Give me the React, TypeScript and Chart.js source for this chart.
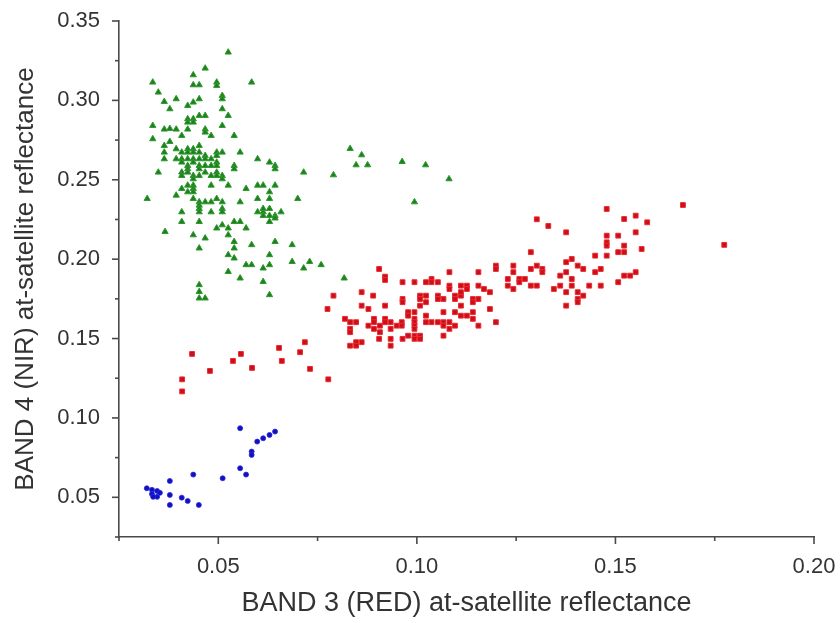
import React, { useEffect, useRef } from "react";
import { Chart, registerables } from "chart.js";

Chart.register(...registerables);

const X_MIN = 0.025;
const X_MAX = 0.2;
const Y_MIN = 0.025;
const Y_MAX = 0.35;
const TICK_STEP = 0.025;

const X_TITLE = "BAND 3 (RED) at-satellite reflectance";
const Y_TITLE = "BAND 4 (NIR) at-satellite reflectance";

const bluePoints: [number, number][] = [
  [0.032, 0.0557], [0.0333, 0.0547], [0.0346, 0.054], [0.0333, 0.0521], [0.0346, 0.0503],
  [0.0336, 0.0503], [0.0353, 0.0528], [0.0378, 0.0603], [0.0378, 0.0515], [0.0378, 0.0452],
  [0.0408, 0.0498], [0.0423, 0.0477], [0.0451, 0.0452], [0.0437, 0.0643], [0.0511, 0.062],
  [0.0555, 0.0935], [0.0555, 0.0683], [0.057, 0.0643], [0.0584, 0.0788], [0.0584, 0.0767],
  [0.0598, 0.0851], [0.0613, 0.0872], [0.0629, 0.0893], [0.0643, 0.0914],
];

const redPoints: [number, number][] = [
  [0.0409, 0.1243], [0.0409, 0.1167], [0.0434, 0.1403], [0.0479, 0.1296], [0.0537, 0.1359],
  [0.0557, 0.1403], [0.0585, 0.1315], [0.0653, 0.1441], [0.066, 0.1359], [0.0706, 0.1414],
  [0.0718, 0.1477], [0.0731, 0.1309], [0.0777, 0.1243], [0.0775, 0.1686], [0.079, 0.177],
  [0.0819, 0.1624], [0.0832, 0.1603], [0.0847, 0.1603], [0.0832, 0.1561], [0.0832, 0.154],
  [0.0832, 0.1455], [0.0847, 0.1477], [0.0847, 0.1455], [0.0861, 0.1477], [0.0861, 0.1792],
  [0.0861, 0.1707], [0.0878, 0.1686], [0.0878, 0.1581], [0.089, 0.177], [0.0892, 0.1624],
  [0.0892, 0.1603], [0.0892, 0.1561], [0.0905, 0.1938], [0.0905, 0.1498], [0.0907, 0.1581],
  [0.0907, 0.154], [0.092, 0.189], [0.092, 0.1869], [0.092, 0.1707], [0.092, 0.1624],
  [0.092, 0.1603], [0.0934, 0.1603], [0.0934, 0.1561], [0.0934, 0.1498], [0.0934, 0.1455],
  [0.0949, 0.1581], [0.0962, 0.1603], [0.0962, 0.1581], [0.0964, 0.1855], [0.0964, 0.1749],
  [0.0964, 0.1729], [0.0964, 0.1498], [0.0978, 0.1666], [0.0978, 0.1644], [0.0978, 0.1518],
  [0.0994, 0.1855], [0.0994, 0.1666], [0.0994, 0.1624], [0.0994, 0.1603], [0.0994, 0.1581],
  [0.0994, 0.1561], [0.0994, 0.1518], [0.0994, 0.1498], [0.1008, 0.1518], [0.1008, 0.1498],
  [0.1008, 0.177], [0.1008, 0.1749], [0.1008, 0.1707], [0.1023, 0.177], [0.1023, 0.1729],
  [0.1023, 0.1644], [0.1023, 0.1603], [0.1023, 0.1855], [0.1037, 0.1875], [0.1037, 0.1855],
  [0.1037, 0.1603], [0.1053, 0.1855], [0.1053, 0.1603], [0.1053, 0.177], [0.1053, 0.1749],
  [0.1067, 0.1749], [0.1067, 0.1666], [0.1067, 0.1603], [0.1067, 0.1581], [0.1067, 0.1518],
  [0.1082, 0.1603], [0.1082, 0.1561], [0.1096, 0.1581], [0.1082, 0.1918], [0.1082, 0.1833],
  [0.1082, 0.1812], [0.1096, 0.177], [0.1096, 0.1749], [0.1111, 0.177], [0.1111, 0.1792],
  [0.1111, 0.1707], [0.1096, 0.1666], [0.1111, 0.1644], [0.1126, 0.1644], [0.1141, 0.1666],
  [0.1141, 0.1624], [0.1111, 0.1833], [0.1126, 0.1833], [0.1126, 0.1812], [0.1141, 0.1749],
  [0.1141, 0.1729], [0.1155, 0.1749], [0.1155, 0.1918], [0.1155, 0.1833], [0.1169, 0.1812],
  [0.1184, 0.1792], [0.1155, 0.1581], [0.1184, 0.1686], [0.1199, 0.1603], [0.1199, 0.1959],
  [0.1199, 0.1938], [0.1229, 0.1875], [0.1229, 0.1833], [0.1243, 0.1959], [0.1243, 0.1918],
  [0.1243, 0.1812], [0.1258, 0.1875], [0.1258, 0.1855], [0.1272, 0.1875], [0.1287, 0.2044],
  [0.1287, 0.1938], [0.1287, 0.1833], [0.1302, 0.1833], [0.1302, 0.1959], [0.1316, 0.1938],
  [0.1316, 0.1918], [0.1302, 0.2251], [0.1331, 0.2209], [0.1376, 0.2169], [0.1345, 0.1812],
  [0.1361, 0.1833], [0.1361, 0.1896], [0.1376, 0.1981], [0.1376, 0.1918], [0.1376, 0.1792],
  [0.1376, 0.1707], [0.139, 0.2001], [0.139, 0.1875], [0.139, 0.1833], [0.1405, 0.1959],
  [0.1405, 0.1792], [0.1405, 0.1749], [0.1405, 0.1729], [0.1419, 0.1938], [0.1419, 0.177],
  [0.1434, 0.1833], [0.1449, 0.2022], [0.1449, 0.1918], [0.1463, 0.1938], [0.1463, 0.1833],
  [0.1478, 0.2316], [0.1478, 0.2148], [0.1478, 0.2106], [0.1478, 0.2085], [0.1478, 0.2022],
  [0.1507, 0.2148], [0.1507, 0.2044], [0.1507, 0.1855], [0.1522, 0.2253], [0.1522, 0.2085],
  [0.1522, 0.2044], [0.1522, 0.1896], [0.1537, 0.1896], [0.1551, 0.2274], [0.1551, 0.2169],
  [0.1551, 0.1918], [0.1566, 0.2064], [0.158, 0.2232], [0.167, 0.2341], [0.1774, 0.209],
];

const greenPoints: [number, number][] = [
  [0.0525, 0.3303], [0.0467, 0.3202], [0.0437, 0.316], [0.0335, 0.3114], [0.0437, 0.3097],
  [0.0452, 0.3097], [0.0496, 0.3114], [0.0496, 0.3093], [0.0584, 0.3114], [0.0349, 0.3051],
  [0.0364, 0.2992], [0.0394, 0.3009], [0.0378, 0.2946], [0.0423, 0.2967], [0.0437, 0.2988],
  [0.0452, 0.3009], [0.051, 0.303], [0.051, 0.3009], [0.051, 0.2946], [0.0525, 0.2904],
  [0.0452, 0.2904], [0.0467, 0.2904], [0.0423, 0.2883], [0.0423, 0.2862], [0.0437, 0.2883],
  [0.0437, 0.2862], [0.0335, 0.2841], [0.0364, 0.2818], [0.0378, 0.2822], [0.0394, 0.2818],
  [0.0408, 0.2778], [0.0423, 0.2818], [0.0467, 0.2818], [0.0467, 0.2799], [0.0482, 0.2778],
  [0.051, 0.2841], [0.054, 0.2778], [0.0335, 0.2757], [0.0378, 0.274], [0.0364, 0.2715],
  [0.0364, 0.2673], [0.0364, 0.2631], [0.0394, 0.2694], [0.0408, 0.2673], [0.0408, 0.2631],
  [0.0423, 0.2694], [0.0423, 0.2673], [0.0437, 0.2694], [0.0437, 0.2673], [0.0437, 0.2631],
  [0.0452, 0.2715], [0.0452, 0.2673], [0.0452, 0.2631], [0.0467, 0.2652], [0.0467, 0.2631],
  [0.0482, 0.2631], [0.0496, 0.2673], [0.0496, 0.2652], [0.051, 0.2673], [0.0555, 0.2673],
  [0.0423, 0.2631], [0.0394, 0.2631], [0.0408, 0.261], [0.0423, 0.2589], [0.0437, 0.261],
  [0.0452, 0.2589], [0.0452, 0.2568], [0.0467, 0.2589], [0.0482, 0.2589], [0.0496, 0.261],
  [0.0496, 0.2589], [0.054, 0.2589], [0.054, 0.2568], [0.0599, 0.2631], [0.0629, 0.261],
  [0.0643, 0.2589], [0.0643, 0.2568], [0.0715, 0.2547], [0.0349, 0.2547], [0.0408, 0.2547],
  [0.0408, 0.2526], [0.0423, 0.2568], [0.0423, 0.2547], [0.0437, 0.2526], [0.0437, 0.2505],
  [0.0452, 0.2526], [0.0467, 0.2547], [0.0482, 0.2526], [0.0496, 0.2547], [0.0496, 0.2526],
  [0.051, 0.2526], [0.051, 0.2505], [0.0408, 0.2444], [0.0423, 0.2465], [0.0437, 0.2465],
  [0.0437, 0.2444], [0.0437, 0.2423], [0.0423, 0.2423], [0.0482, 0.2465], [0.0525, 0.2465],
  [0.0482, 0.236], [0.0496, 0.2381], [0.051, 0.236], [0.0394, 0.2402], [0.0321, 0.2381],
  [0.0437, 0.2381], [0.0452, 0.236], [0.0452, 0.2339], [0.0452, 0.2318], [0.0467, 0.236],
  [0.057, 0.2444], [0.0599, 0.2465], [0.0613, 0.2465], [0.0629, 0.2423], [0.0643, 0.2465],
  [0.0555, 0.236], [0.0599, 0.2381], [0.0629, 0.2381], [0.07, 0.2381], [0.0408, 0.2297],
  [0.0452, 0.2297], [0.0482, 0.2297], [0.051, 0.2318], [0.051, 0.2297], [0.0599, 0.2297],
  [0.0613, 0.2297], [0.0613, 0.2274], [0.0629, 0.2274], [0.0643, 0.2274], [0.0658, 0.2297],
  [0.0613, 0.2318], [0.0629, 0.2318], [0.0408, 0.2236], [0.0452, 0.2236], [0.0496, 0.2195],
  [0.051, 0.2215], [0.0525, 0.2195], [0.0525, 0.2152], [0.054, 0.2236], [0.0555, 0.2236],
  [0.057, 0.2195], [0.0629, 0.2236], [0.0643, 0.2258], [0.0366, 0.2173], [0.0437, 0.2152],
  [0.0467, 0.2132], [0.0452, 0.2069], [0.054, 0.211], [0.054, 0.2069], [0.0584, 0.209],
  [0.0643, 0.211], [0.0686, 0.209], [0.0525, 0.2027], [0.054, 0.2006], [0.0629, 0.2027],
  [0.057, 0.1964], [0.0584, 0.1964], [0.0613, 0.1943], [0.0629, 0.1964], [0.0686, 0.1984],
  [0.073, 0.1984], [0.0715, 0.1943], [0.0759, 0.1964], [0.0525, 0.1921], [0.0555, 0.188],
  [0.0613, 0.1858], [0.0452, 0.1838], [0.0452, 0.1795], [0.0452, 0.1754], [0.0467, 0.1754],
  [0.0629, 0.1775], [0.0832, 0.2696], [0.0861, 0.2656], [0.0847, 0.2593], [0.0876, 0.2593],
  [0.0963, 0.2614], [0.1022, 0.2593], [0.1081, 0.2505], [0.0994, 0.236], [0.079, 0.253],
  [0.0817, 0.188],
];

const FONT = 'Arial, "Liberation Sans", Helvetica, sans-serif';
const AXIS_COLOR = "#4a4a4a";
const TEXT_COLOR = "#333333";

const isMajor = (v: number) => Math.round(v * 1000) % 50 === 0;

const axisTicksPlugin = {
  id: "axisTicks",
  afterDraw(chart: any) {
    const { ctx, chartArea } = chart;
    const xs = chart.scales.x;
    const ys = chart.scales.y;
    ctx.save();
    ctx.strokeStyle = AXIS_COLOR;
    ctx.lineWidth = 1.6;
    xs.ticks.forEach((t: any) => {
      const px = xs.getPixelForValue(t.value);
      const len = isMajor(t.value) ? 7 : 4;
      ctx.beginPath();
      ctx.moveTo(px, chartArea.bottom);
      ctx.lineTo(px, chartArea.bottom + len);
      ctx.stroke();
    });
    ys.ticks.forEach((t: any) => {
      const py = ys.getPixelForValue(t.value);
      const len = isMajor(t.value) ? 7 : 4;
      ctx.beginPath();
      ctx.moveTo(chartArea.left, py);
      ctx.lineTo(chartArea.left - len, py);
      ctx.stroke();
    });
    ctx.restore();
  },
};

const toXY = (pts: [number, number][]) => pts.map(([x, y]) => ({ x, y }));

export default function App() {
  const canvasRef = useRef<HTMLCanvasElement | null>(null);

  useEffect(() => {
    if (!canvasRef.current) return;
    const chart = new Chart(canvasRef.current, {
      type: "scatter",
      data: {
        datasets: [
          {
            label: "green",
            data: toXY(greenPoints),
            pointStyle: "triangle",
            pointRadius: 3.6,
            backgroundColor: "#1f7f1f",
            borderColor: "#2e9a2e",
            borderWidth: 1,
          },
          {
            label: "red",
            data: toXY(redPoints),
            pointStyle: "rect",
            pointRadius: 3.4,
            backgroundColor: "#c8101a",
            borderColor: "#f02a30",
            borderWidth: 1,
          },
          {
            label: "blue",
            data: toXY(bluePoints),
            pointStyle: "circle",
            pointRadius: 2.5,
            backgroundColor: "#1010c0",
            borderColor: "#2a2ae0",
            borderWidth: 0.8,
          },
        ],
      },
      options: {
        animation: false,
        responsive: true,
        maintainAspectRatio: false,
        layout: { padding: { top: 21, right: 26, left: 0, bottom: 0 } },
        plugins: {
          legend: { display: false },
          tooltip: { enabled: false },
          title: { display: false },
        },
        scales: {
          x: {
            type: "linear",
            min: X_MIN,
            max: X_MAX,
            afterFit: (s: any) => {
              s.height = 86;
              s.paddingLeft = 0;
              s.paddingRight = 0;
            },
            ticks: {
              stepSize: TICK_STEP,
              autoSkip: false,
              maxRotation: 0,
              padding: 10,
              color: TEXT_COLOR,
              font: { family: FONT, size: 22 },
              callback: (v: any) => (isMajor(Number(v)) ? Number(v).toFixed(2) : ""),
            },
            grid: {
              display: true,
              drawOnChartArea: false,
              drawTicks: true,
              tickLength: 7,
              tickColor: "rgba(0,0,0,0)",
            },
            border: { display: true, color: AXIS_COLOR, width: 1.6 },
            title: {
              display: true,
              text: X_TITLE,
              color: TEXT_COLOR,
              font: { family: FONT, size: 27 },
              padding: { top: 0, bottom: 3 },
            },
          },
          y: {
            type: "linear",
            min: Y_MIN,
            max: Y_MAX,
            afterFit: (s: any) => {
              s.width = 119;
              s.paddingTop = 0;
              s.paddingBottom = 0;
            },
            ticks: {
              stepSize: TICK_STEP,
              autoSkip: false,
              padding: 12,
              color: TEXT_COLOR,
              font: { family: FONT, size: 22 },
              callback: (v: any) => (isMajor(Number(v)) ? Number(v).toFixed(2) : ""),
            },
            grid: {
              display: true,
              drawOnChartArea: false,
              drawTicks: true,
              tickLength: 7,
              tickColor: "rgba(0,0,0,0)",
            },
            border: { display: true, color: AXIS_COLOR, width: 1.6 },
            title: {
              display: true,
              text: Y_TITLE,
              color: TEXT_COLOR,
              font: { family: FONT, size: 26 },
              padding: { top: 10, bottom: 0 },
            },
          },
        },
      },
      plugins: [axisTicksPlugin],
    });
    return () => chart.destroy();
  }, []);

  return (
    <div style={{ position: "fixed", left: 0, top: 0, width: 840, height: 623, background: "#fff" }}>
      <canvas ref={canvasRef} />
    </div>
  );
}
